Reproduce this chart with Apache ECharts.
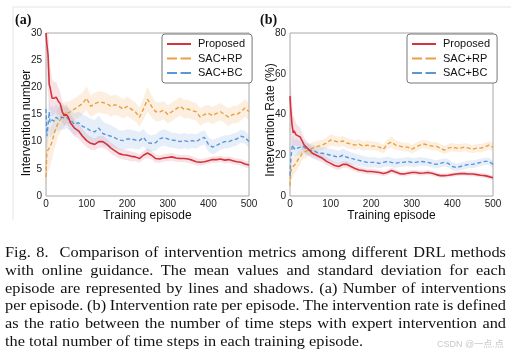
<!DOCTYPE html>
<html><head><meta charset="utf-8">
<script src="https://cdn.jsdelivr.net/npm/echarts@6/dist/echarts.min.js"></script>
<style>
html,body{margin:0;padding:0;background:#fff;}
#wrap{position:relative;width:511px;height:355px;overflow:hidden;background:#fff;}
#chart{position:absolute;left:0;top:0;width:511px;height:355px;}
#cap{position:absolute;left:5px;top:244px;font-family:"Liberation Serif","Times New Roman",serif;font-size:15px;line-height:17.8px;color:#111;transform-origin:0 0;}
#cap div{text-align:justify;text-align-last:justify;white-space:nowrap;}
#cap div.last{text-align-last:left;}
#cap span{white-space:nowrap;}
#wm{position:absolute;left:437px;top:337px;font-family:"Liberation Sans","Noto Sans CJK SC",sans-serif;font-size:9px;color:#c8c8c8;}
</style></head>
<body>
<div id="wrap">
<div id="chart"></div>
<div id="cap">
<div>Fig. 8.&nbsp; Comparison of intervention metrics among different DRL methods</div>
<div>with online guidance. The mean values and standard deviation for each</div>
<div>episode are represented by lines and shadows. (a) Number of interventions</div>
<div>per episode. (b) Intervention rate per episode. The intervention rate is defined</div>
<div>as the ratio between the number of time steps with expert intervention and</div>
<div class="last">the total number of time steps in each training episode.</div>
</div>
<div id="wm">CSDN @一点.点</div>
</div>
<script>
// Episodes
var episodes = [0,2,5,8,10,15,20,25,30,35,
  40,45,50,55,60,70,80,90,100,110,
  120,130,140,150,160,170,180,190,200,210,
  220,230,240,250,260,270,280,290,300,310,
  320,330,340,350,360,370,380,390,400,410,
  420,430,440,450,460,470,480,490,500];

// (a) Intervention number
var numProposed = [30,28,26,20.5,20,18,18,18.2,17.5,17,
  15.5,14.8,15,14.5,13.5,12.5,12,11,10.2,9.7,
  9.5,10,10,9.5,8.8,8.3,7.8,7.6,7.5,7.3,
  7.2,6.9,7.5,7.9,7.5,6.9,6.8,7.0,7.1,7.2,
  7.0,6.9,6.9,6.8,6.6,6.3,6.2,6.3,6.5,6.7,
  6.7,6.8,6.6,6.7,6.5,6.3,6.2,5.9,5.7];
var numRP = [3.5,8,8.5,8.8,9,10,11.5,12.5,13.5,14,
  14.5,15,15.5,15.3,15.5,16,16.5,17,18,16.5,
  17,17.3,17.2,17,16.5,16.8,16.5,16,16.5,16,
  15.5,14.5,16,17.8,16.5,15.5,15.5,15.8,15,15.5,
  16,16.5,16,16,15.7,15.5,14.5,15,15.2,14.8,
  15.2,15.5,15,14.5,15,15,15.5,16.2,15.5];
var numBC = [16,11,13,15.5,13.5,14,13.8,14.5,14.2,14.5,
  14.5,14.3,14.5,14.2,14,13.2,13.5,12.8,12.5,12,
  11.8,12.5,11.5,11.2,11,10.7,10.3,10.2,10.5,10.5,
  10.3,10.2,10.8,9.8,9.7,9.8,10.5,10.8,10.5,10.3,
  10.2,10,10.2,10,10.2,10,10.5,10.8,9.5,9,
  9.3,9.7,10,10,10.3,10.5,11,10.8,10];
var numProposedStd = [1,6,7,5,4,3.5,3,2.8,2.5,2.2,
  2,1.9,1.8,1.7,1.6,1.5,1.4,1.3,1.2,1.2,
  1.1,1.1,1.1,1,1,1,0.9,0.9,0.9,0.9,
  0.8,0.8,0.8,0.9,0.8,0.8,0.7,0.7,0.7,0.7,
  0.7,0.7,0.7,0.7,0.7,0.7,0.6,0.6,0.6,0.6,
  0.6,0.6,0.6,0.6,0.6,0.6,0.6,0.6,0.6];
var numRPStd = [2,4,4,3.8,3.5,3.2,3,2.8,2.5,2.4,
  2.3,2.2,2,2,2,2,2,2,2.2,2,
  2,2,2,1.9,1.9,1.9,1.8,1.8,1.8,1.8,
  1.8,1.8,2,2.3,2,1.8,1.7,1.7,1.7,1.7,
  1.7,1.7,1.7,1.7,1.6,1.6,1.6,1.6,1.6,1.6,
  1.6,1.6,1.6,1.6,1.6,1.6,1.6,1.6,1.6];
var numBCStd = [3,3,3,3,2.8,2.6,2.5,2.4,2.3,2.2,
  2.2,2.1,2,2,2,2,2.1,2.2,2.2,2.2,
  2.2,2.3,2.2,2.1,2,1.9,1.8,1.8,1.8,1.7,
  1.7,1.6,1.6,1.6,1.5,1.5,1.5,1.5,1.5,1.4,
  1.4,1.4,1.4,1.4,1.3,1.3,1.3,1.3,1.3,1.3,
  1.3,1.2,1.2,1.2,1.2,1.2,1.2,1.2,1.2];

// (b) Intervention rate (%)
var rateProposed = [49,42,35,31,32,30,29.5,29,27,25,
  24,23,22,21,20.5,19.5,18.5,17,16,15,
  14.5,15.5,15.5,14.5,13.5,12.8,12.5,12,12,11.8,
  11.5,11,11.5,12.5,11.8,11,10.8,11.2,11.5,11.5,
  11.2,11.3,11.5,11.2,10.5,10,10,10.2,10.5,10.8,
  11,11,10.8,10.8,10.5,10.2,10,9.5,9];
var rateRP = [5,12,14,14.5,15,16,18,19,21,21.5,
  22,22.5,23,23.5,24,24.5,25,26,27.5,27,
  26.5,27,26,25.5,25,25.5,24.5,25,24.5,24.5,
  24,23,25.5,26.5,25,24.5,24,24,23,24,
  25,25.5,25,24.5,24.5,23.5,22.5,23.5,24,23.5,
  23.5,24,23.5,23,23.5,23.5,24,25,24];
var rateBC = [10,18,24,25,23,24,23.5,24,24.5,24,
  23,23,22.5,22.2,22,21,21,20.5,20,19.5,
  19,20,19,18.5,18,17.5,17,16.5,16.5,16.5,
  16,16.5,17,16.5,16,16.5,16.5,17,16.5,16.5,
  17,16.8,16.5,16,15.5,16,16.5,16,14.5,14,
  14.5,15,15.5,15.5,16,16.5,17,17,15.5];
var rateProposedStd = [8,14,11,8,7,5.5,5,4.5,4,3.5,
  3.2,3,2.8,2.6,2.5,2.2,2,1.9,1.8,1.8,
  1.7,1.7,1.6,1.6,1.5,1.5,1.5,1.4,1.4,1.4,
  1.3,1.3,1.3,1.4,1.3,1.2,1.2,1.2,1.2,1.2,
  1.2,1.2,1.2,1.2,1.1,1.1,1.1,1.1,1.1,1.1,
  1.1,1.1,1.1,1.1,1.1,1.1,1.1,1.1,1.1];
var rateRPStd = [4,5,5,4.8,4.5,4.2,4,3.8,3.5,3.3,
  3.2,3,3,3,2.8,2.7,2.6,2.6,2.8,2.6,
  2.5,2.5,2.5,2.4,2.4,2.3,2.3,2.3,2.2,2.2,
  2.2,2.2,2.4,2.8,2.4,2.2,2.1,2.1,2.1,2.1,
  2.1,2.1,2,2,2,2,2,2,2,2,
  2,2,2,2,2,2,2,2,2];
var rateBCStd = [6,6,5,4.5,4.2,4,3.8,3.6,3.4,3.2,
  3.1,3,3,3,3,3,3,3.1,3.2,3.2,
  3.2,3.3,3.2,3,2.9,2.8,2.7,2.6,2.5,2.5,
  2.4,2.4,2.4,2.3,2.3,2.2,2.2,2.2,2.1,2.1,
  2.1,2,2,2,2,2,2,2,2,1.9,
  1.9,1.9,1.9,1.9,1.9,1.8,1.8,1.8,1.8];

var seriesNames = ['Proposed','SAC+RP','SAC+BC'];
var colors = ['#d2333d','#e9a045','#5b97d6'];
var bandColors = ['rgba(226,110,125,0.2)','rgba(240,175,95,0.2)','rgba(115,160,225,0.18)'];

function pairs(xs, ys){ return xs.map(function(x,i){return [x, ys[i]];}); }

function bandSeries(idx, mean, std, color){
  return {type:'custom', coordinateSystem:'cartesian2d', xAxisIndex:idx, yAxisIndex:idx,
    data:[[episodes[0], mean[0]]], silent:true, z:1,
    renderItem:function(params, api){
      var pts = [], i;
      for (i = 0; i < episodes.length; i++) pts.push(api.coord([episodes[i], mean[i] + std[i]]));
      for (i = episodes.length - 1; i >= 0; i--) pts.push(api.coord([episodes[i], Math.max(0, mean[i] - std[i])]));
      var cs = params.coordSys;
      return {type:'polygon', shape:{points:pts}, style:{fill:color, stroke:null},
        clipPath:{type:'rect', shape:{x:cs.x, y:cs.y, width:cs.width, height:cs.height}}};
    }};
}

function buildSeries(idx, means, stds){
  var out = [];
  means.forEach(function(m,k){ out.push(bandSeries(idx, m, stds[k], bandColors[k])); });
  means.forEach(function(m,k){
    out.push({type:'line', name:seriesNames[k], xAxisIndex:idx, yAxisIndex:idx,
      data:pairs(episodes, m), symbol:'none', z:3 + (k===0?2:0),
      lineStyle:{color:colors[k], width: k===0 ? 1.6 : 1.4, type: k===0 ? 'solid' : [4,2.5]},
      itemStyle:{color:colors[k]}});
  });
  return out;
}

var sans = '"Liberation Sans", Arial, sans-serif';
function xAxisCfg(idx){
  return {type:'value', gridIndex:idx, min:0, max:500, interval:100,
    axisLine:{show:false}, axisTick:{show:false}, splitLine:{show:false},
    axisLabel:{fontSize:10, color:'#222', margin:3, fontFamily:sans},
    name:'Training episode', nameLocation:'middle', nameGap:14,
    nameTextStyle:{fontSize:12, color:'#111', fontFamily:sans}};
}
function yAxisCfg(idx, max, interval){
  return {type:'value', gridIndex:idx, min:0, max:max, interval:interval,
    axisLine:{show:false}, axisTick:{show:false}, splitLine:{show:false},
    axisLabel:{fontSize:10, color:'#222', margin:4, fontFamily:sans}};
}
var solidIcon = 'path://M0,0h24v2h-24z';
var dashIcon = 'path://M0,0h10v2h-10z M13.5,0h10.5v2h-10.5z';
function legendCfg(left){
  return {left:left, top:34, orient:'vertical',
    data:[{name:'Proposed', icon:solidIcon},{name:'SAC+RP', icon:dashIcon},{name:'SAC+BC', icon:dashIcon}],
    itemWidth:24, itemHeight:2, itemGap:1.5,
    padding:[3.5,7,3.5,5], borderColor:'#777', borderWidth:1, borderRadius:3, backgroundColor:'#fff',
    textStyle:{fontSize:11, color:'#111', fontFamily:sans, lineHeight:13, padding:[0,0,0,2]}, selectedMode:false};
}

var chart = echarts.init(document.getElementById('chart'), null, {renderer:'canvas'});
var series = buildSeries(0, [numProposed, numRP, numBC], [numProposedStd, numRPStd, numBCStd])
  .concat(buildSeries(1, [rateProposed, rateRP, rateBC], [rateProposedStd, rateRPStd, rateBCStd]));

chart.setOption({
  animation:false,
  backgroundColor:'transparent',
  grid:[
    {left:46, top:33, width:203, height:163, show:true, borderColor:'#a8a8a8', borderWidth:1, containLabel:false},
    {left:290, top:33, width:203, height:163, show:true, borderColor:'#a8a8a8', borderWidth:1, containLabel:false}
  ],
  xAxis:[xAxisCfg(0), xAxisCfg(1)],
  yAxis:[yAxisCfg(0, 30, 5), yAxisCfg(1, 80, 20)],
  legend:[legendCfg(162), legendCfg(407)],
  graphic:[
    {type:'line', shape:{x1:13, y1:7, x2:511, y2:7}, style:{stroke:'#e4e4e4', lineWidth:1}, silent:true},
    {type:'line', shape:{x1:13, y1:7, x2:13, y2:220}, style:{stroke:'#e4e4e4', lineWidth:1}, silent:true},
    {type:'text', x:15, y:13, style:{text:'(a)', font:'bold 14px "Liberation Serif", serif', fill:'#111'}},
    {type:'text', x:260, y:13, style:{text:'(b)', font:'bold 14px "Liberation Serif", serif', fill:'#111'}},
    {type:'text', x:27, y:123, rotation:Math.PI/2, style:{text:'Intervention number', font:'12px "Liberation Sans", Arial, sans-serif', fill:'#111', textAlign:'center', textVerticalAlign:'middle'}},
    {type:'text', x:271, y:120, rotation:Math.PI/2, style:{text:'Intervention Rate (%)', font:'12px "Liberation Sans", Arial, sans-serif', fill:'#111', textAlign:'center', textVerticalAlign:'middle'}}
  ],
  series:series
});

// Caption layout: horizontal scale so that the last (ragged) line matches reference width,
// justified lines span 501px.
(function(){
  var cap = document.getElementById('cap');
  var lines = cap.querySelectorAll('div');
  var last = lines[lines.length-1];
  var probe = document.createElement('span');
  probe.textContent = last.textContent;
  probe.style.font = 'inherit';
  last.innerHTML = ''; last.appendChild(probe);
  var lastW = probe.getBoundingClientRect().width;
  var s = 358 / lastW;
  var innerW = 501 / s;
  cap.style.width = innerW + 'px';
  cap.style.transform = 'scaleX(' + s + ')';
  for (var i = 0; i < lines.length - 1; i++) {
    var d = lines[i];
    var html = d.innerHTML;
    var tmp = document.createElement('span');
    tmp.innerHTML = html;
    tmp.style.whiteSpace = 'nowrap';
    d.innerHTML = ''; d.appendChild(tmp);
    var w = tmp.getBoundingClientRect().width;
    d.innerHTML = html;
    if (w > innerW) {
      var nSpaces = (d.textContent.match(/ /g) || []).length;
      d.style.wordSpacing = ((innerW - w) / nSpaces - 0.1) + 'px';
    }
  }
})();
</script>
</body></html>
